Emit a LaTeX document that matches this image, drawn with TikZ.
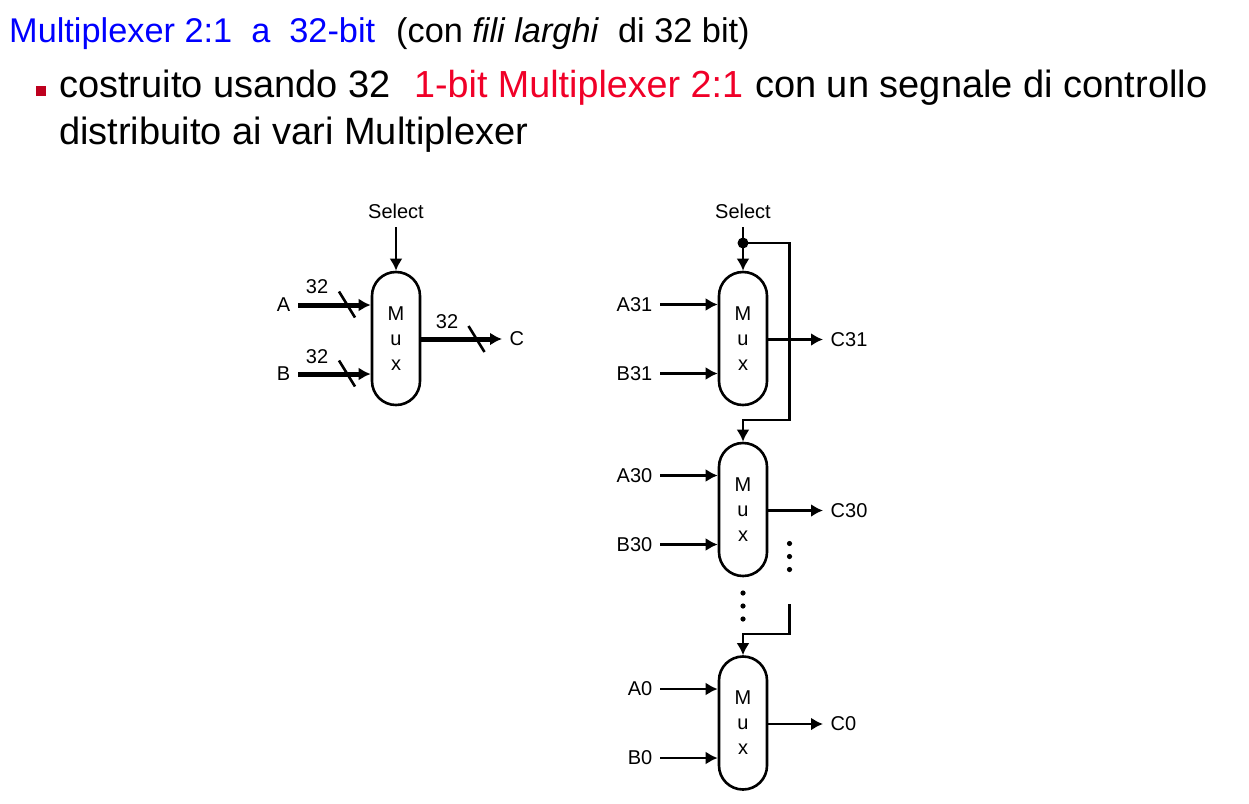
\documentclass[tikz,border=0pt]{standalone}
\usepackage{fontspec}
\setmainfont{Liberation Sans}
\usepackage{xcolor}
\usetikzlibrary{positioning, arrows.meta, calc}
\definecolor{titleblue}{RGB}{0,0,255}
\definecolor{hotred}{RGB}{240,0,40}
\definecolor{bulletred}{RGB}{190,0,30}
\tikzset{
  muxbox/.style={draw, line width=2.6pt, rounded corners=23.9pt, minimum width=48pt, minimum height=133pt,
    inner sep=0pt, align=center, font=\fontsize{20}{25}\selectfont},
  wire/.style={line width=2.6pt},
  bus/.style={line width=5pt},
  tick/.style={line width=2.6pt},
  lab/.style={inner xsep=7.5pt, inner ysep=8pt, font=\fontsize{20}{24}\selectfont},
  head/.style={inner sep=0pt, anchor=base west, font=\fontsize{34.3}{40}\selectfont},
  body/.style={inner sep=0pt, anchor=base west, font=\fontsize{38}{44}\selectfont}
}
\begin{document}
\begin{tikzpicture}[>={Latex[length=12pt,width=13pt]}, x=1pt, y=-1pt]
  \useasboundingbox (0,0) rectangle (1249,803);
  % Title
  \node[head, text=titleblue] (title) at (9,42) {Multiplexer 2:1\ \ a\ \ 32-bit};
  \node[head] (note) at (396,42) {(con \textit{fili larghi}\ \ di 32 bit)};
  % Bullet
  \fill[bulletred] (36,86) rectangle (46,96);
  \node[body] (lineone) at (59,97) {costruito usando 32};
  \node[body, text=hotred, font=\fontsize{37.7}{44}\selectfont] (linered) at (414,97) {1-bit Multiplexer 2:1};
  \node[body] (linetail) at (755,97) {con un segnale di controllo};
  \node[body] (linetwo) at (59,144) {distribuito ai vari Multiplexer};
  % Left mux
  \node[muxbox] (mux) at (396,338.5) {M\\u\\x};
  \node[lab, anchor=south] (sel) at (396,227) {Select};
  \node[lab, anchor=east] (a) at (298,305) {A};
  \node[lab, anchor=east] (b) at (298,374) {B};
  \node[lab, anchor=west] (c) at (502,339) {C};
  \draw[wire,->] (sel) -- (mux);
  \draw[bus,->] (a) -- (a -| mux.west);
  \draw[bus,->] (b) -- (b -| mux.west);
  \draw[bus,->] (mux.east |- c) -- (c);
  % Bus widths
  \node[lab, inner sep=0pt] (na) at (317,287) {32};
  \node[lab, inner sep=0pt] (nb) at (317,357) {32};
  \node[lab, inner sep=0pt] (nc) at (447,322) {32};
  \foreach \x/\y in {347/304.5, 347/373.5, 476.5/339}
      \draw[tick] (\x-8,\y-13) -- (\x+8,\y+13);
  % Right column
  \foreach \name/\y/\idx in {muxh/338.5/31, muxm/509.5/30, muxl/723/0} {
      \node[muxbox] (\name) at (743,\y) {M\\u\\x};
      \node[lab, anchor=east] (a\name) at (660,\y-34) {A\idx};
      \node[lab, anchor=east] (b\name) at (660,\y+35) {B\idx};
      \node[lab, anchor=west] (c\name) at (823,\y+1) {C\idx};
      \draw[wire,->] (a\name) -- (a\name -| \name.west);
      \draw[wire,->] (b\name) -- (b\name -| \name.west);
      \draw[wire,->] (\name.east |- c\name) -- (c\name);
  }
  % Select lines
  \node[lab, anchor=south] (selr) at (743,227) {Select};
  \coordinate (jct) at (743,243);
  \coordinate (brk) at (789.5,604);
  \draw[wire,->] (selr) -- (muxh);
  \fill (jct) circle (5.5pt);
  \draw[wire,->] (jct) -| (789.5,420) -| (muxm.north);
  \draw[wire,->] (brk) |- (743,634) -- (muxl.north);
  % Dots
  \foreach \y in {593,606,619}
      \fill (743,\y) circle (2.6pt);
  \foreach \y in {543.5,556.5,569.5}
      \fill (789.5,\y) circle (2.6pt);
\end{tikzpicture}
\end{document}
